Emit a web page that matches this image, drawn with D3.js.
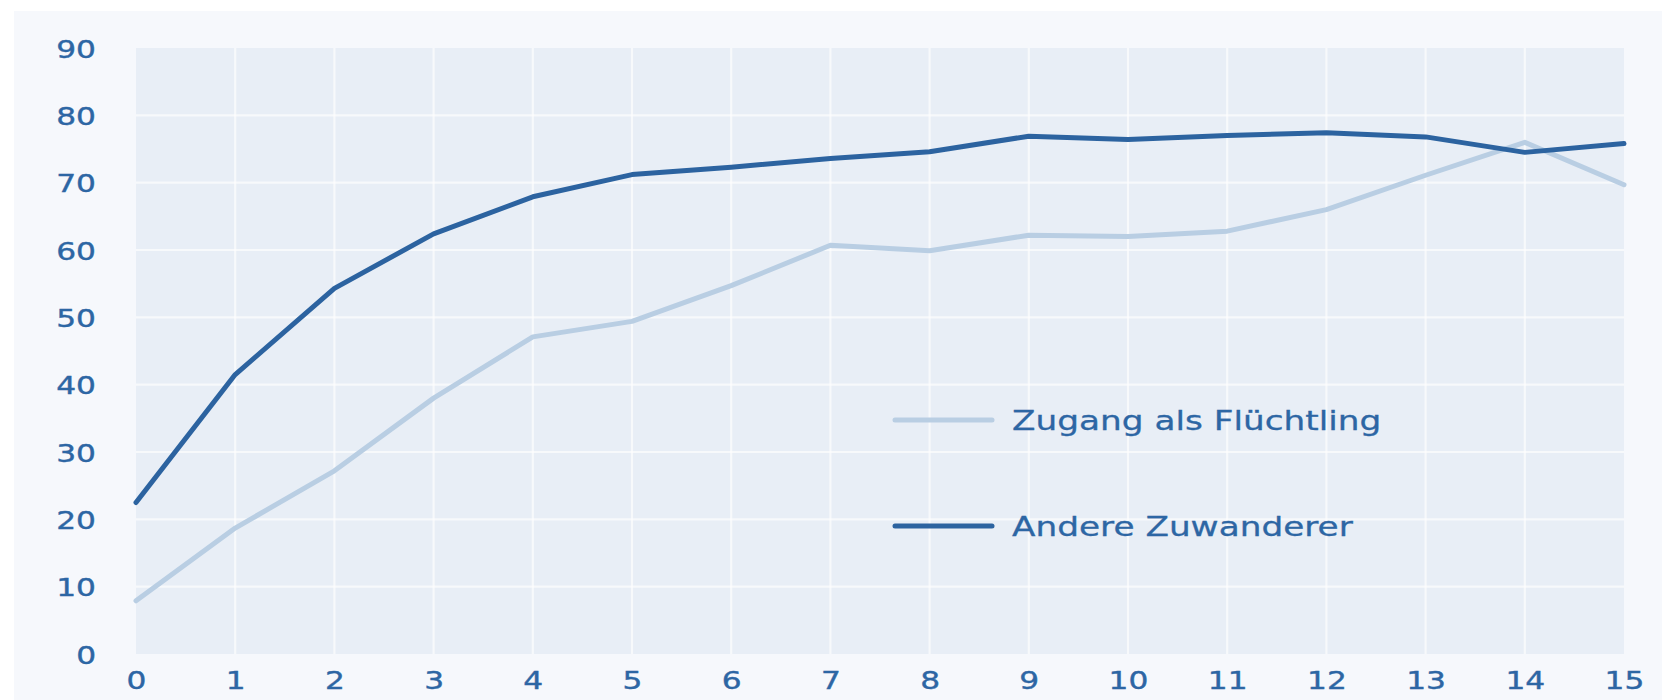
<!DOCTYPE html>
<html>
<head>
<meta charset="utf-8">
<script src="https://cdn.jsdelivr.net/npm/d3@7"></script>
<style>
  html, body { margin: 0; padding: 0; background: #ffffff; }
  svg { display: block; }
</style>
</head>
<body>
<svg id="chart" width="1662" height="700"></svg>
<script>
// ---- data ----
const years = [0, 1, 2, 3, 4, 5, 6, 7, 8, 9, 10, 11, 12, 13, 14, 15];
const fluechtling = [7.9, 18.7, 27.2, 38.0, 47.1, 49.4, 54.7, 60.7, 59.9, 62.2, 62.0, 62.8, 66.0, 71.1, 76.0, 69.7];
const andere = [22.5, 41.5, 54.3, 62.4, 67.9, 71.2, 72.3, 73.6, 74.6, 76.9, 76.4, 77.0, 77.4, 76.8, 74.5, 75.8];
const yTicks = [0, 10, 20, 30, 40, 50, 60, 70, 80, 90];
const seriesNames = ["Zugang als Flüchtling", "Andere Zuwanderer"];

// ---- layout ----
const W = 1662, H = 700;
const plot = { left: 136, right: 1624, top: 48, bottom: 654 };
const textColor = "#2d66a4";
const colors = ["#b9cee3", "#2c63a0"];
const fontFamily = "'DejaVu Sans', sans-serif";
const stretch = 1.25;

const svg = d3.select("#chart");

// outer panel
svg.append("rect").attr("x", 14).attr("y", 11).attr("width", W - 14).attr("height", H - 11)
  .attr("fill", "#f6f8fc");

const x = d3.scaleLinear().domain([0, 15]).range([plot.left, plot.right]);
const y = d3.scaleLinear().domain([0, 90]).range([plot.bottom, plot.top]);

// plot background
svg.append("rect").attr("x", plot.left).attr("y", plot.top)
  .attr("width", plot.right - plot.left).attr("height", plot.bottom - plot.top)
  .attr("fill", "#e8eef6");

// gridlines
svg.append("g").selectAll("line").data(yTicks.filter(d => d > 0 && d < 90)).join("line")
  .attr("x1", plot.left).attr("x2", plot.right)
  .attr("y1", d => y(d)).attr("y2", d => y(d))
  .attr("stroke", "#ffffff").attr("stroke-width", 2.2).attr("opacity", 0.65);
svg.append("g").selectAll("line").data(years.filter(d => d > 0 && d < 15)).join("line")
  .attr("y1", plot.top).attr("y2", plot.bottom)
  .attr("x1", d => x(d)).attr("x2", d => x(d))
  .attr("stroke", "#ffffff").attr("stroke-width", 2.2).attr("opacity", 0.65);

// axes (labels only)
const xAxis = svg.append("g").attr("transform", `translate(0,${plot.bottom})`)
  .call(d3.axisBottom(x).tickValues(years).tickFormat(d3.format("d")).tickSize(0).tickPadding(0));
xAxis.select(".domain").remove();
xAxis.selectAll("text")
  .attr("y", 35).attr("dy", null)
  .attr("transform", `scale(${stretch},1)`)
  .attr("fill", textColor).attr("font-family", fontFamily).attr("font-size", 25)
  .attr("stroke", textColor).attr("stroke-width", 0.4);

const yAxis = svg.append("g").attr("transform", `translate(${plot.left},0)`)
  .call(d3.axisLeft(y).tickValues(yTicks).tickFormat(d3.format("d")).tickSize(0).tickPadding(0));
yAxis.select(".domain").remove();
yAxis.selectAll("text")
  .attr("x", -40 / stretch).attr("dy", "0.36em")
  .attr("transform", `scale(${stretch},1)`)
  .attr("fill", textColor).attr("font-family", fontFamily).attr("font-size", 25)
  .attr("stroke", textColor).attr("stroke-width", 0.4);

// lines
const line = d3.line().x((d, i) => x(years[i])).y(d => y(d));
[fluechtling, andere].forEach((s, k) => {
  svg.append("path").datum(s)
    .attr("d", line)
    .attr("fill", "none")
    .attr("stroke", colors[k])
    .attr("stroke-width", 5)
    .attr("stroke-linejoin", "round")
    .attr("stroke-linecap", "round");
});

// legend
const legendY = [420, 526];
const legend = svg.append("g");
seriesNames.forEach((name, k) => {
  legend.append("line")
    .attr("x1", 895).attr("x2", 992)
    .attr("y1", legendY[k]).attr("y2", legendY[k])
    .attr("stroke", colors[k]).attr("stroke-width", 5).attr("stroke-linecap", "round");
  legend.append("text")
    .attr("transform", `translate(1012,${legendY[k] + 10}) scale(1.27,1)`)
    .attr("fill", textColor).attr("font-family", fontFamily).attr("font-size", 27)
    .attr("stroke", textColor).attr("stroke-width", 0.3)
    .text(name);
});
</script>
</body>
</html>
